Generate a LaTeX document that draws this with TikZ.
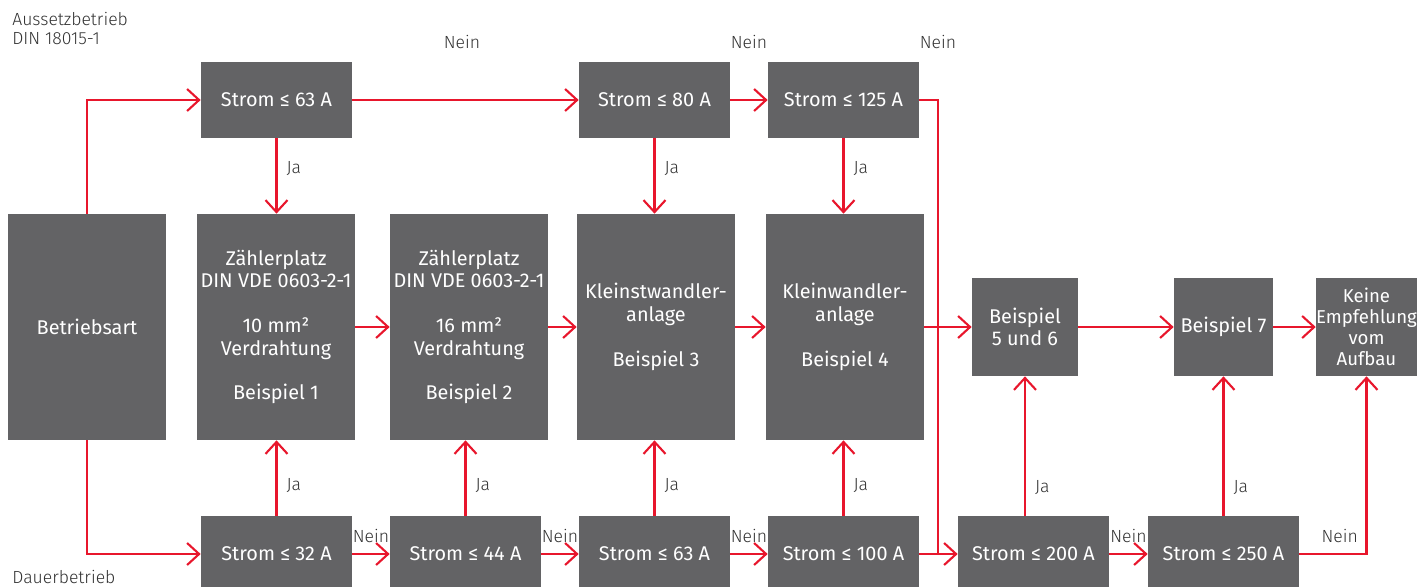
\documentclass[tikz,border=0pt]{standalone}
\usepackage{fontspec}
\setmainfont{Fira Sans}
\newfontfamily\thinfont{Fira Sans Light}
\usetikzlibrary{arrows.meta}
\definecolor{abbgray}{RGB}{99,99,101}
\definecolor{abbred}{RGB}{232,22,44}
\definecolor{abbtext}{RGB}{50,50,50}

\begin{document}
\begin{tikzpicture}[x=0.02cm,y=-0.02cm,
		box/.style={fill=abbgray, text=white, inner sep=0pt, align=center, font=\fontsize{11.3}{12.8}\selectfont},
		strom/.style={box, minimum width=3.02cm, minimum height=1.52cm},
		big/.style={box, minimum width=3.16cm, minimum height=4.52cm},
		small/.style={box, minimum width=1.98cm, minimum height=1.96cm},
		line/.style={draw=abbred, line width=1.2pt},
		arr/.style={line, -{Straight Barb[length=2.4mm, width=4.4mm, line width=1.2pt]}},
		lab/.style={font=\thinfont\fontsize{10}{11}\selectfont, text=abbtext, inner sep=0pt, align=left}]
		\useasboundingbox (0,0) rectangle (1428,586);
		% side labels
		\node [lab, anchor=north west] (aus) at (12,12) {Aussetzbetrieb\\DIN 18015-1};
		\node [lab, anchor=base west] (dauer) at (12,583) {Dauerbetrieb};
		% boxes
		\node [big] (bart) at (87,327) {Betriebsart};
		\node [strom] (s63t) at (276.5,100) {Strom ≤ 63 A};
		\node [strom] (s80) at (654.5,100) {Strom ≤ 80 A};
		\node [strom] (s125) at (843.5,100) {Strom ≤ 125 A};
		\node [big] (zp1) at (276,327) {Zählerplatz\\DIN VDE 0603-2-1\\[12.8pt]10 mm²\\Verdrahtung\\[12.8pt]Beispiel 1};
		\node [big] (zp2) at (469,327) {Zählerplatz\\DIN VDE 0603-2-1\\[12.8pt]16 mm²\\Verdrahtung\\[12.8pt]Beispiel 2};
		\node [big] (kwa1) at (656,327) {Kleinstwandler-\\anlage\\[12.8pt]Beispiel 3};
		\node [big] (kwa2) at (845,327) {Kleinwandler-\\anlage\\[12.8pt]Beispiel 4};
		\node [small, minimum width=2.12cm] (bsp56) at (1025,327) {Beispiel\\5 und 6};
		\node [small] (bsp7) at (1223.5,327) {Beispiel 7};
		\node [small, font=\fontsize{10.6}{12}\selectfont] (keine) at (1366.5,327) {Keine\\Empfehlung\\vom\\Aufbau};
		\node [strom] (s32) at (276.5,554) {Strom ≤ 32 A};
		\node [strom] (s44) at (465.5,554) {Strom ≤ 44 A};
		\node [strom] (s63b) at (654.5,554) {Strom ≤ 63 A};
		\node [strom] (s100) at (843.5,554) {Strom ≤ 100 A};
		\node [strom] (s200) at (1033.5,554) {Strom ≤ 200 A};
		\node [strom] (s250) at (1223.5,554) {Strom ≤ 250 A};
		\coordinate (jn) at (938,554);
		% top row, Nein
		\draw [arr] (bart.north) |- (s63t.west);
		\draw [arr] (s63t.east) -- (s80.west);
		\draw [arr] (s80.east) -- (s125.west);
		\draw [line] (s125.east) -| (jn);
		\node [lab] (n1) at (462,42) {Nein};
		\node [lab] (n2) at (749,42) {Nein};
		\node [lab] (n3) at (938,42) {Nein};
		% top row, Ja
		\draw [arr] (s63t.south) -- node [lab, right=0.18cm, pos=0.4] {Ja} (s63t.south |- zp1.north);
		\draw [arr] (s80.south) -- node [lab, right=0.18cm, pos=0.4] {Ja} (s80.south |- kwa1.north);
		\draw [arr] (s125.south) -- node [lab, right=0.18cm, pos=0.4] {Ja} (s125.south |- kwa2.north);
		% middle row
		\draw [arr] (zp1.east) -- (zp2.west);
		\draw [arr] (zp2.east) -- (kwa1.west);
		\draw [arr] (kwa1.east) -- (kwa2.west);
		\draw [arr] (kwa2.east) -- (bsp56.west);
		\draw [arr] (bsp56.east) -- (bsp7.west);
		\draw [arr] (bsp7.east) -- (keine.west);
		% bottom row, Nein
		\draw [arr] (bart.south) |- (s32.west);
		\draw [arr] (s32.east) -- node [lab, above=6pt] {Nein} (s44.west);
		\draw [arr] (s44.east) -- node [lab, above=6pt] {Nein} (s63b.west);
		\draw [arr] (s63b.east) -- node [lab, above=6pt] {Nein} (s100.west);
		\draw [arr] (s100.east) -- (s200.west);
		\draw [arr] (s200.east) -- node [lab, above=6pt] {Nein} (s250.west);
		\draw [arr] (s250.east) -| node [lab, above=6pt, pos=0.3] {Nein} (keine.south);
		% bottom row, Ja
		\draw [arr] (s32.north) -- node [lab, right=0.18cm, pos=0.4] {Ja} (s32.north |- zp1.south);
		\draw [arr] (s44.north) -- node [lab, right=0.18cm, pos=0.4] {Ja} (s44.north |- zp2.south);
		\draw [arr] (s63b.north) -- node [lab, right=0.18cm, pos=0.4] {Ja} (s63b.north |- kwa1.south);
		\draw [arr] (s100.north) -- node [lab, right=0.18cm, pos=0.4] {Ja} (s100.north |- kwa2.south);
		\draw [arr] (bsp56.south |- s200.north) -- node [lab, right=0.18cm, pos=0.2] {Ja} (bsp56.south);
		\draw [arr] (s250.north) -- node [lab, right=0.18cm, pos=0.2] {Ja} (bsp7.south);
	\end{tikzpicture}
\end{document}
